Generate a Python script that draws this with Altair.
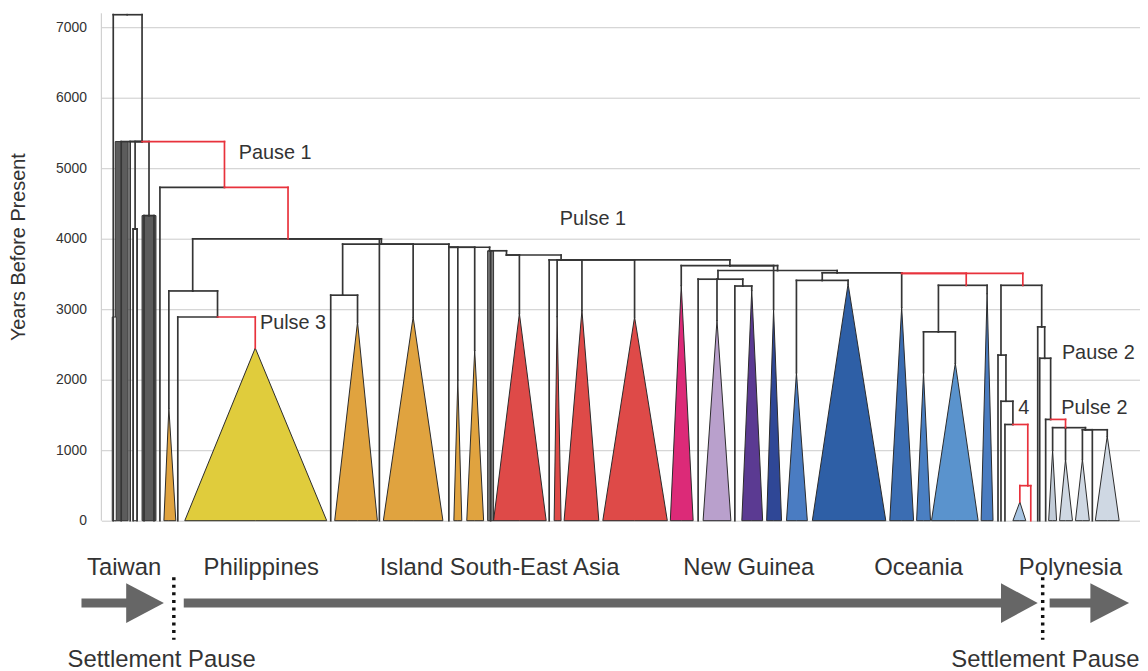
import altair as alt
import pandas as pd

FONT = "Liberation Sans"
INK = "#353535"
RED = "#e8323c"

# ---------------- tree (node, parent, age in years BP, tip-layout position, on red path) -------------
NAMES = ["R", "t_a", "N1", "t_b", "t_c", "Nw", "t_d", "t_e", "Nd", "t_f", "t_g", "N2", "t_h", "N3",
         "N4", "ph_a", "N5", "ph_b", "ph_c", "is_0", "B1", "N7", "is_a", "is_b", "is_c", "B2", "is_d",
         "is_e", "is_f", "B3", "is_g", "B4", "is_h", "B5", "is_i", "is_j", "is_k", "is_l", "B6", "ng_a",
         "ng_b", "B7", "B8", "ng_c", "ng_d", "B9", "ng_e", "ng_f", "B11", "B10", "oc_a", "oc_b", "B12",
         "oc_c", "O1", "O2", "oc_d", "oc_e", "oc_f", "P0", "P1", "po_a", "P2", "po_b", "P3", "po_c",
         "P4", "po_d", "po_e", "P5", "po_f", "P6", "po_g", "P7", "po_h", "P8", "po_i", "po_j", "P9",
         "po_k", "po_l", "po_m"]
PARENTS = [None, "R", "R", "N1", "N1", "N1", "Nw", "Nw", "N1", "Nd", "Nd", "N1", "N2", "N2",
           "N3", "N4", "N4", "N5", "N5", "N3", "N3", "B1", "N7", "N7", "B1", "B1", "B2",
           "B2", "B2", "B2", "B3", "B3", "B4", "B4", "B5", "B5", "B5", "B5", "B5", "B6",
           "B6", "B6", "B7", "B8", "B8", "B8", "B9", "B9", "B7", "B11", "B10", "B10", "B11",
           "B12", "B12", "O1", "O2", "O2", "O1", "B12", "P0", "P1", "P1", "P2", "P2", "P3",
           "P3", "P4", "P4", "P0", "P5", "P5", "P6", "P6", "P7", "P7", "P8", "P8", "P8",
           "P9", "P9", "P9"]
AGES = [7180, 0, 5380, 0, 0, 4140, 0, 0, 4330, 0, 0, 4730, 0, 4000,
        3260, 1600, 2890, 0, 2450, 0, 3925, 3200, 0, 2820, 2890, 3880, 0,
        2000, 2420, 3830, 0, 3770, 2940, 3700, 0, 2900, 2985, 2890, 3620, 3340,
        3000, 3550, 3427, 0, 2845, 3330, 0, 3270, 3517, 3410, 2100, 3360, 3510,
        3030, 3340, 2680, 2100, 2235, 3225, 3340, 2350, 0, 1695, 0, 1365, 0,
        497, 265, 0, 2750, 0, 2305, 0, 1437, 0, 1320, 1000, 870, 1290,
        870, 0, 1200]
POS = [128, 114, 143, 122, 131, 136, 134, 138, 150, 145, 155, 226, 161, 290,
       194, 170, 219, 179, 257, 382, 384, 345, 333, 360, 416, 452, 452,
       461, 478, 493, 494, 510, 523, 565, 553, 561, 586, 639, 735, 686,
       779, 783, 723, 703, 722, 748, 740, 757, 843, 828, 802, 854, 908,
       908, 973, 945, 930, 962, 994, 1030, 1008, 1005, 1013, 1008, 1020, 1012,
       1035, 1027, 1038, 1049, 1045, 1052, 1047, 1058, 1053, 1073, 1060, 1073, 1093,
       1090, 1100, 1115]
ON_PATH = [0, 0, 0, 0, 0, 0, 0, 0, 0, 0, 0, 1, 0, 1,
           0, 0, 0, 0, 1, 0, 0, 0, 0, 0, 0, 0, 0,
           0, 0, 0, 0, 0, 0, 0, 0, 0, 0, 0, 0, 0,
           0, 0, 0, 0, 0, 0, 0, 0, 0, 0, 0, 0, 0,
           0, 1, 0, 0, 0, 0, 1, 0, 0, 0, 0, 0, 0,
           1, 1, 1, 0, 0, 0, 0, 0, 0, 1, 0, 0, 0,
           0, 0, 0]

# collapsed clades drawn as triangles
TRI_NODE = ["ph_a", "ph_c", "is_b", "is_c", "is_e", "is_f", "is_h", "is_j", "is_k", "is_l",
            "ng_a", "ng_b", "ng_d", "ng_f", "oc_a", "oc_b", "oc_c", "oc_d", "oc_e", "oc_f",
            "po_d", "po_i", "po_j", "po_k", "po_m"]
TRI_LEFT = [165, 186, 337, 386, 457, 470, 497, 558, 568, 607,
            675, 772, 708, 747, 792, 818, 896, 923, 938, 988,
            1020, 1056, 1067, 1083, 1103]
TRI_RIGHT = [177, 329, 380, 446, 465, 487, 550, 565, 603, 672,
             698, 787, 736, 768, 813, 892, 920, 937, 985, 1000,
             1033, 1064, 1080, 1097, 1127]
TRI_FILL = ["#e0a33f", "#e0cc3c", "#e0a33f", "#e0a33f", "#e0a33f", "#e0a33f", "#de4a48", "#de4a48",
            "#de4a48", "#de4a48", "#dc2a78", "#2f4796", "#b9a0cc", "#5b3a92", "#4a7cc2", "#2e5fa6",
            "#3b6db2", "#4a7fc2", "#5a93cd", "#4a7cc0", "#a8c5e3", "#c2ccd8", "#cfd8e3", "#cfd8e3",
            "#cfd8e3"]

# bundles of Taiwanese lineages drawn as bars
BAR_LEFT = [116, 143, 113, 134, 491]
BAR_RIGHT = [129, 157, 117, 138, 497]
BAR_TOP = [5380, 4330, 2890, 4140, 3830]
BAR_FILL = ["#5c5c5c", "#5c5c5c", "#ffffff", "#ffffff", "#7a7a7a"]

# labels in the tree
TREE_LABELS = ["Pause 1", "Pulse 1", "Pulse 3", "Pause 2", "Pulse 2", "4"]
TREE_LABEL_POS = [277, 597, 295, 1106, 1102, 1031]
TREE_LABEL_AGE = [5211, 4282, 2803, 2380, 1592, 1592]

# region strip under the tree
REGIONS = ["Taiwan", "Philippines", "Island South-East Asia", "New Guinea", "Oceania", "Polynesia"]
REGION_POS = [125, 263, 503, 754, 925, 1078]
REGION_ROW = -665
PAUSE_TEXT = ["Settlement Pause", "Settlement Pause"]
PAUSE_POS = [175, 1050]
PAUSE_TEXT_LEFT = [68, 958]
PAUSE_TEXT_ROW = -1975
PAUSE_TOP, PAUSE_BOTTOM = -803, -1690
ARROW_START = [82, 185, 1057]
ARROW_HEAD = [127, 1008, 1098]
ARROW_TIP = [165, 1045, 1137]
ARROW_ROW = -1169
ARROW_HALF = 282

TICKS = [0, 1000, 2000, 3000, 4000, 5000, 6000, 7000]

# ---------------- build tables ----------------
node = {n: (p, a, x) for n, p, a, x in zip(NAMES, PARENTS, AGES, POS)}
seg = []
for n, p, a, x, r in zip(NAMES, PARENTS, AGES, POS, ON_PATH):
    if p is None:
        continue
    pa, px = node[p][1], node[p][2]
    c = RED if r else INK
    seg.append(dict(x=px, x2=x, y=pa, y2=pa, c=c, r=r))
    seg.append(dict(x=x, x2=x, y=pa, y2=a, c=c, r=r))
seg_df = pd.DataFrame(seg).sort_values("r")

tri = []
for i, (n, l, rr, f) in enumerate(zip(TRI_NODE, TRI_LEFT, TRI_RIGHT, TRI_FILL)):
    _, a, x = node[n]
    tri += [dict(id=i, x=l, y=0, b=0, f=f), dict(id=i, x=x, y=a, b=0, f=f),
            dict(id=i, x=rr, y=0, b=0, f=f)]
tri_df = pd.DataFrame(tri)

bar_df = pd.DataFrame(dict(x=BAR_LEFT, x2=BAR_RIGHT, y=BAR_TOP, y2=[0] * len(BAR_TOP), f=BAR_FILL))
lab_df = pd.DataFrame(dict(x=TREE_LABEL_POS, y=TREE_LABEL_AGE, t=TREE_LABELS))
reg_df = pd.DataFrame(dict(x=REGION_POS, y=[REGION_ROW] * len(REGIONS), t=REGIONS))
sp_df = pd.DataFrame(dict(x=PAUSE_TEXT_LEFT, y=[PAUSE_TEXT_ROW] * 2, t=PAUSE_TEXT))
dot_df = pd.DataFrame(dict(x=PAUSE_POS, y=[PAUSE_TOP] * 2, y2=[PAUSE_BOTTOM] * 2))
shaft_df = pd.DataFrame(dict(x=ARROW_START, x2=[h + 3 for h in ARROW_HEAD], y=[ARROW_ROW] * 3))
head = []
for i, (h, t) in enumerate(zip(ARROW_HEAD, ARROW_TIP)):
    head += [dict(id=i, x=h, y=ARROW_ROW + ARROW_HALF, y2=ARROW_ROW - ARROW_HALF),
             dict(id=i, x=t, y=ARROW_ROW, y2=ARROW_ROW)]
head_df = pd.DataFrame(head)
dom_df = pd.DataFrame(dict(y=[7200], y2=[0]))

# ---------------- encodings ----------------
XS = alt.Scale(domain=[102, 1148], nice=False, zero=False)
YS = alt.Scale(domain=[-2100, 7200], nice=False, zero=False)
YAX = alt.Axis(values=TICKS, format="d", grid=True, gridColor="#cccccc", gridWidth=1,
               domain=False, ticks=False, tickSize=0, labelPadding=15, labelFontSize=14,
               labelFont=FONT, labelColor="#333333", title="Years Before Present",
               titleFont=FONT, titleFontSize=20, titleFontWeight="normal", titleColor="#333333",
               titleX=-83, titleY=235, titleAngle=270, titleAlign="center", titleBaseline="middle")


def X(f):
    return alt.X(f, type="quantitative", scale=XS, axis=None)


def Y(f, **kw):
    return alt.Y(f, type="quantitative", scale=YS, axis=YAX, **kw)


domain_line = alt.Chart(dom_df).mark_rule(color="#c8c8c8", strokeWidth=1).encode(
    x=alt.value(0), y=Y("y"), y2="y2")

bars = alt.Chart(bar_df).mark_rect(stroke="#333333", strokeWidth=1).encode(
    x=X("x"), x2="x2", y=Y("y"), y2="y2", color=alt.Color("f:N", scale=None))

tris = alt.Chart(tri_df).mark_area(stroke="#2a2a2a", strokeWidth=1, interpolate="linear",
                                   opacity=1).encode(
    x=X("x"), y=Y("y", stack=None), y2="b", detail="id:N", color=alt.Color("f:N", scale=None))

lines = alt.Chart(seg_df).mark_rule(strokeWidth=1.7, strokeCap="square").encode(
    x=X("x"), x2="x2", y=Y("y"), y2="y2", color=alt.Color("c:N", scale=None))

labels = alt.Chart(lab_df).mark_text(font=FONT, fontSize=20, color="#333333", align="center",
                                     baseline="middle").encode(x=X("x"), y=Y("y"), text="t:N")

regions = alt.Chart(reg_df).mark_text(font=FONT, fontSize=24, color="#333333", align="center",
                                      baseline="middle").encode(x=X("x"), y=Y("y"), text="t:N")

pauses = alt.Chart(sp_df).mark_text(font=FONT, fontSize=24, color="#333333", align="left",
                                    baseline="middle").encode(x=X("x"), y=Y("y"), text="t:N")

dots = alt.Chart(dot_df).mark_rule(color="#111111", strokeWidth=3.5, strokeDash=[3, 4.6]).encode(
    x=X("x"), y=Y("y"), y2="y2")

shafts = alt.Chart(shaft_df).mark_rule(color="#666666", strokeWidth=9).encode(
    x=X("x"), x2="x2", y=Y("y"))

heads = alt.Chart(head_df).mark_area(color="#666666", interpolate="linear").encode(
    x=X("x"), y=Y("y", stack=None), y2="y2", detail="id:N")

chart = alt.layer(domain_line, bars, tris, lines, labels, regions, pauses, dots, shafts, heads).properties(
    width=1046, height=660,
    autosize=alt.AutoSizeParams(type="none"),
    padding={"left": 94, "top": 3, "right": 0, "bottom": 0},
    background="white",
).configure_view(stroke=None)

chart.save("out.html", embed_options={"renderer": "svg", "actions": False})
